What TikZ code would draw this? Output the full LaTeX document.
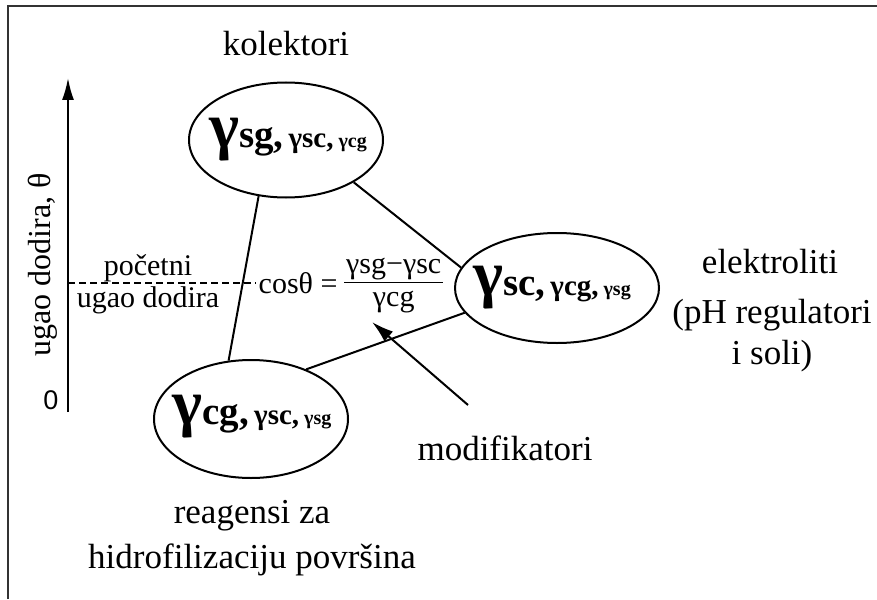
\documentclass[tikz,border=0pt]{standalone}
\usepackage{fontspec}
\setmainfont{Liberation Serif}
\newfontfamily\sansnum{Liberation Sans}
\usetikzlibrary{shapes.geometric,arrows.meta}

% surface energy triple inside a phase ellipse
\newcommand{\gset}[3]{{\bfseries\fontsize{64}{64}\selectfont γ}{\bfseries\fontsize{39}{39}\selectfont #1,}\hspace{5pt}%
  {\bfseries\fontsize{29}{29}\selectfont γ#2,}\hspace{5pt}{\bfseries\fontsize{20}{20}\selectfont γ#3}}

\tikzset{
  phase/.style={draw, ellipse, line width=2pt, inner sep=0pt,
    minimum width=194pt, minimum height=115pt},
  gtext/.style={inner sep=0pt},
  lbl/.style={font=\fontsize{35}{42}\selectfont, align=center},
  small/.style={font=\fontsize{30}{34}\selectfont, align=center},
  conn/.style={line width=2pt}
}

\begin{document}
\begin{tikzpicture}[x=1pt, y=-1pt]
  \useasboundingbox (0,0) rectangle (877,599);
  % frame
  \draw[black!80, line width=2pt] (8,599) -- (8,6) -- (877,6);

  % axis of contact angle
  \coordinate (ax0) at (68,412);
  \coordinate (axtop) at (68,78);
  \draw[line width=2pt, -{Latex[length=22pt,width=12pt]}] (ax0) -- (axtop);
  \node[font=\sansnum\fontsize{27}{27}\selectfont] (zero) at (51,400) {0};
  \node[small, font=\fontsize{32}{34}\selectfont, rotate=90] (axlbl) at (43,265) {ugao dodira, θ};

  % the three phases
  \node[phase] (sg) at (286,140) {};
  \node[phase, minimum width=204pt, minimum height=110pt] (sc) at (557,288) {};
  \node[phase, minimum height=118pt] (cg) at (251,419) {};
  \node[gtext] (sgtxt) at (288,140) {\gset{sg}{sc}{cg}};
  \node[gtext] (sctxt) at (552,288) {\gset{sc}{cg}{sg}};
  \node[gtext] (cgtxt) at (252,417) {\gset{cg}{sc}{sg}};

  \draw[conn] (sg.-116) -- (cg.111);
  \draw[conn] (sg.-32) -- (sc.168);
  \draw[conn] (sc.195) -- (cg.42);

  % Young equation
  \node[small, anchor=east] (cos) at (341,283) {cosθ =};
  \node[small, anchor=west, inner sep=0pt] (frac) at (344,283)
    {\setlength{\tabcolsep}{2pt}\begin{tabular}{c}γsg−γsc\\[-2pt]\hline γcg\end{tabular}};
  \coordinate (dash0) at (68,283);
  \draw[dash pattern=on 7pt off 4pt, line width=1.5pt] (dash0) -- (cos.west);
  \node[small] (poc) at (148,268) {početni};
  \node[small] (ugao) at (148,300) {ugao dodira};

  % labels
  \node[lbl] (kol) at (286,44) {kolektori};
  \node[lbl] (elek) at (770,262) {elektroliti};
  \node[lbl, font=\fontsize{35}{41}\selectfont] (ph) at (772,336) {(pH regulatori\\i soli)};
  \node[lbl] (mod) at (505,448) {modifikatori};
  \node[lbl, font=\fontsize{35}{45}\selectfont] (reag) at (252,538) {reagensi za\\hidrofilizaciju površina};

  \coordinate (modtail) at (468,405);
  \draw[conn, -{Latex[length=22pt,width=13pt]}] (modtail) -- (372,322);
\end{tikzpicture}
\end{document}
